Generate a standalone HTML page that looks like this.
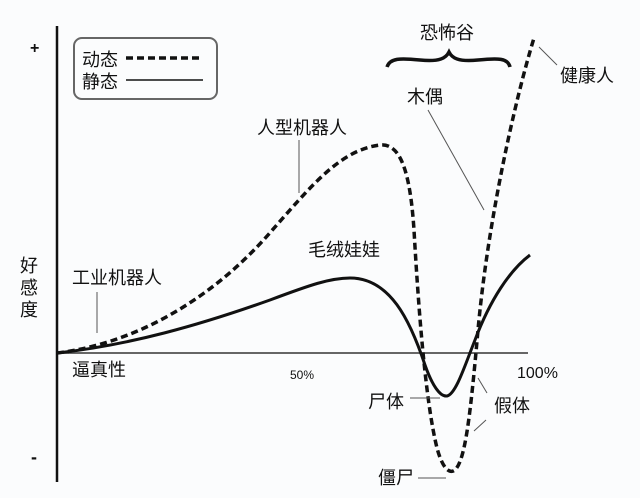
<!DOCTYPE html>
<html><head><meta charset="utf-8"><style>
html,body{margin:0;padding:0;background:#fbfcfd;}
svg text{font-family:"Liberation Sans","Noto Sans CJK SC",sans-serif;fill:#111;}
</style></head><body>
<svg width="640" height="493" viewBox="0 0 640 493" xmlns="http://www.w3.org/2000/svg">
<rect width="640" height="493" fill="#fbfcfd"/>
<line x1="57" y1="26" x2="57" y2="482" stroke="#111" stroke-width="2.5"/>
<line x1="57" y1="353" x2="528" y2="353" stroke="#666" stroke-width="2"/>
<text x="30" y="53" font-size="16" font-weight="bold">+</text>
<text x="31" y="463" font-size="18" font-weight="bold">-</text>
<rect x="74" y="38" width="143" height="61" rx="8" fill="none" stroke="#666" stroke-width="2"/>
<text x="82" y="66" font-size="18">动态</text>
<text x="82" y="88" font-size="18">静态</text>
<line x1="126" y1="58" x2="202" y2="58" stroke="#111" stroke-width="3.5" stroke-dasharray="7,4"/>
<line x1="126" y1="80" x2="203" y2="80" stroke="#111" stroke-width="1.5"/>
<path d="M57,353 C140,343 215,295 268,235 C312,185 340,150 380,145 C400,143 410,170 414,230 C418,300 425,400 437,448 C443,470 450,474 455,470 C465,460 470,420 478,330 C488,220 515,100 534,38" fill="none" stroke="#111" stroke-width="3.5" stroke-dasharray="7,4"/>
<path d="M57,353 C130,345 200,325 270,300 C310,285 330,278 350,278 C390,278 410,320 425,365 C432,385 440,397 447,396 C456,394 465,365 475,340 C490,300 510,270 530,255" fill="none" stroke="#111" stroke-width="3"/>
<path d="M387,67 C390,58 400,58 420,60 C440,62 446,58 449,52 C452,58 458,62 478,60 C498,58 508,58 510,67" fill="none" stroke="#111" stroke-width="3.5"/>
<g stroke="#555" stroke-width="1">
<line x1="299" y1="140" x2="299" y2="193"/>
<line x1="97" y1="292" x2="97" y2="333"/>
<line x1="428" y1="110" x2="484" y2="210"/>
<line x1="539" y1="47" x2="557" y2="65"/>
<line x1="410" y1="398" x2="440" y2="398"/>
<line x1="478" y1="378" x2="487" y2="393"/>
<line x1="474" y1="431" x2="486" y2="420"/>
<line x1="418" y1="478" x2="446" y2="478"/>
</g>
<text x="420" y="39" font-size="18">恐怖谷</text>
<text x="560" y="82" font-size="18">健康人</text>
<text x="407" y="103" font-size="18">木偶</text>
<text x="257" y="134" font-size="18">人型机器人</text>
<text x="308" y="256" font-size="18">毛绒娃娃</text>
<text x="72" y="284" font-size="18">工业机器人</text>
<text x="72" y="376" font-size="18">逼真性</text>
<text x="290" y="379" font-size="12">50%</text>
<text x="517" y="378" font-size="16">100%</text>
<text x="368" y="408" font-size="18">尸体</text>
<text x="494" y="412" font-size="18">假体</text>
<text x="378" y="484" font-size="18">僵尸</text>
<text x="20" y="272" font-size="18">好</text>
<text x="20" y="294" font-size="18">感</text>
<text x="20" y="316" font-size="18">度</text>
</svg>
</body></html>
